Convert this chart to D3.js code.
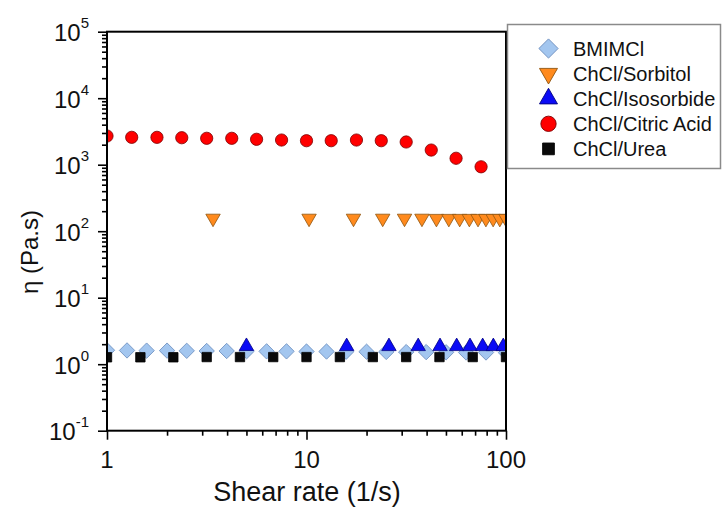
<!DOCTYPE html>
<html><head><meta charset="utf-8">
<script src="https://cdn.jsdelivr.net/npm/d3@7"></script>
<style>
body{margin:0;background:#fff}
svg{display:block}
text{font-family:"Liberation Sans",Arial,Helvetica,sans-serif;fill:#111}
</style>
</head><body>
<svg id="chart" width="723" height="509"></svg>
<script>
// ---- data ----
const seriesNames = ["BMIMCl","ChCl/Sorbitol","ChCl/Isosorbide","ChCl/Citric Acid","ChCl/Urea"];
const bmimX = [1,1.26,1.58,2,2.51,3.16,3.98,5.01,6.31,7.94,10,12.6,15.8,20,25.1,31.6,39.8,50.1,63.1,79.4,100];
const bmimY = [1.62,1.61,1.6,1.6,1.59,1.58,1.58,1.57,1.56,1.56,1.55,1.55,1.54,1.54,1.53,1.52,1.52,1.51,1.5,1.5,1.49];
const sorbX = [3.4,10.3,17.2,24.1,31,37.9,44.8,51.7,58.6,65.5,72.4,79.3,86.2,93.1,100];
const sorbY = [156,156,156,156,156,156,155,155,155,155,155,155,155,155,155];
const isoX = [5,15.9,25.9,36.3,46.7,56.6,66,76.4,86.4,96.9];
const isoY = [1.86,1.85,1.85,1.85,1.85,1.85,1.85,1.85,1.85,1.85];
const citX = [1,1.33,1.78,2.37,3.16,4.22,5.62,7.5,10,13.3,17.8,23.7,31.6,42.2,56.2,75];
const citY = [2700,2580,2580,2545,2495,2495,2410,2350,2295,2295,2350,2295,2195,1660,1250,930];
const ureaX = [1,1.47,2.15,3.16,4.64,6.81,10,14.7,21.5,31.6,46.4,68.1,100];
const ureaY = [1.27,1.27,1.27,1.28,1.28,1.28,1.28,1.28,1.28,1.28,1.28,1.28,1.28];
const xTickVals = [1,10,100];
const xTickLabels = ["1","10","100"];
const yTickExps = [-1,0,1,2,3,4,5];
const xTitle = "Shear rate (1/s)";
const yTitle = "η (Pa.s)";

// ---- layout ----
const L = 107, R = 506, T = 31.7, B = 430.7;
const svg = d3.select("#chart");
const x = d3.scaleLog().domain([1,100]).range([L,R]);
const y = d3.scaleLog().domain([0.1,1e5]).range([B,T]);

const styles = [
  {shape:"diamond", fill:"#a3c6ef", stroke:"#6d8fbf"},
  {shape:"down", fill:"#ff8a1d", stroke:"#8f5510"},
  {shape:"up", fill:"#0b0bf5", stroke:"#000080"},
  {shape:"circle", fill:"#ff0000", stroke:"#7a0000"},
  {shape:"square", fill:"#0a0a0a", stroke:"#000"}
];
function symPath(shape, k){
  k = k || 1;
  if(shape==="diamond") return d3.symbol(d3.symbolSquare, 118*k*k)();
  if(shape==="down"||shape==="up") return d3.symbol(d3.symbolTriangle, 90*k*k)();
  if(shape==="circle") return d3.symbol(d3.symbolCircle, 118*k*k)();
  return d3.symbol(d3.symbolSquare, 88*k*k)();
}
function rot(shape){ return shape==="diamond"?45:(shape==="down"?180:0); }

svg.append("defs").append("clipPath").attr("id","clip")
  .append("rect").attr("x",L).attr("y",T).attr("width",R-L).attr("height",B-T);

const seriesData = [
  [bmimX,bmimY],[sorbX,sorbY],[isoX,isoY],[citX,citY],[ureaX,ureaY]
];
const plot = svg.append("g").attr("clip-path","url(#clip)");
seriesData.forEach((s,i)=>{
  const st = styles[i];
  const pts = s[0].map((v,j)=>({x:v,y:s[1][j]}));
  plot.append("g").selectAll("path").data(pts).join("path")
    .attr("d", symPath(st.shape))
    .attr("transform", d=>`translate(${x(d.x)},${y(d.y)}) rotate(${rot(st.shape)})`)
    .attr("fill", st.fill).attr("stroke", st.stroke).attr("stroke-width",0.8);
});

// ---- axes ----
const yMajors = yTickExps.map(e=>Math.pow(10,e));
const yMinors = [];
for(let e=-1;e<5;e++) for(let m=2;m<10;m++) yMinors.push(m*Math.pow(10,e));
const xMinors = [];
for(let e=0;e<2;e++) for(let m=2;m<10;m++) xMinors.push(m*Math.pow(10,e));

function styleAxis(g){ g.select(".domain").remove(); g.selectAll("line").attr("stroke","#000").attr("stroke-width",1.6); g.selectAll("text").remove(); }

svg.append("g").attr("transform",`translate(${L},0)`)
  .call(d3.axisLeft(y).tickValues(yMajors).tickSize(9).tickFormat(""))
  .call(styleAxis);
svg.append("g").attr("transform",`translate(${L},0)`)
  .call(d3.axisLeft(y).tickValues(yMinors).tickSize(5).tickFormat(""))
  .call(styleAxis);
svg.append("g").attr("transform",`translate(0,${B})`)
  .call(d3.axisBottom(x).tickValues(xTickVals).tickSize(9).tickFormat(""))
  .call(styleAxis);
svg.append("g").attr("transform",`translate(0,${B})`)
  .call(d3.axisBottom(x).tickValues(xMinors).tickSize(5).tickFormat(""))
  .call(styleAxis);

// frame
svg.append("rect").attr("x",L).attr("y",T).attr("width",R-L).attr("height",B-T)
  .attr("fill","none").attr("stroke","#000").attr("stroke-width",2);

// y tick labels
yTickExps.forEach(e=>{
  const t = svg.append("text").attr("x",89).attr("y",y(Math.pow(10,e))+9.5)
    .attr("text-anchor","end").attr("font-size",24);
  t.append("tspan").text("10");
  t.append("tspan").attr("dy",-13).attr("font-size",15).text(e<0?"-"+Math.abs(e):String(e));
});
// x tick labels
xTickVals.forEach((v,i)=>{
  svg.append("text").attr("x",x(v)).attr("y",468).attr("text-anchor","middle")
    .attr("font-size",24).text(xTickLabels[i]);
});
// titles
svg.append("text").attr("x",(L+R)/2+0.5).attr("y",501).attr("text-anchor","middle")
  .attr("font-size",27).text(xTitle);
svg.append("text").attr("transform","translate(38,252) rotate(-90)").attr("text-anchor","middle")
  .attr("font-size",24).text(yTitle);

// ---- legend ----
const lg = svg.append("g");
lg.append("rect").attr("x",507.5).attr("y",24.5).attr("width",213).attr("height",144)
  .attr("fill","#fff").attr("stroke","#8a8a8a").attr("stroke-width",1.5);
seriesNames.forEach((n,i)=>{
  const st = styles[i];
  const by = 55.5 + i*25.1;
  lg.append("path").attr("d",symPath(st.shape,1.25))
    .attr("transform",`translate(548.5,${by-7}) rotate(${rot(st.shape)})`)
    .attr("fill",st.fill).attr("stroke",st.stroke).attr("stroke-width",0.9);
  lg.append("text").attr("x",573).attr("y",by).attr("font-size",20).text(n);
});
</script>
</body></html>
